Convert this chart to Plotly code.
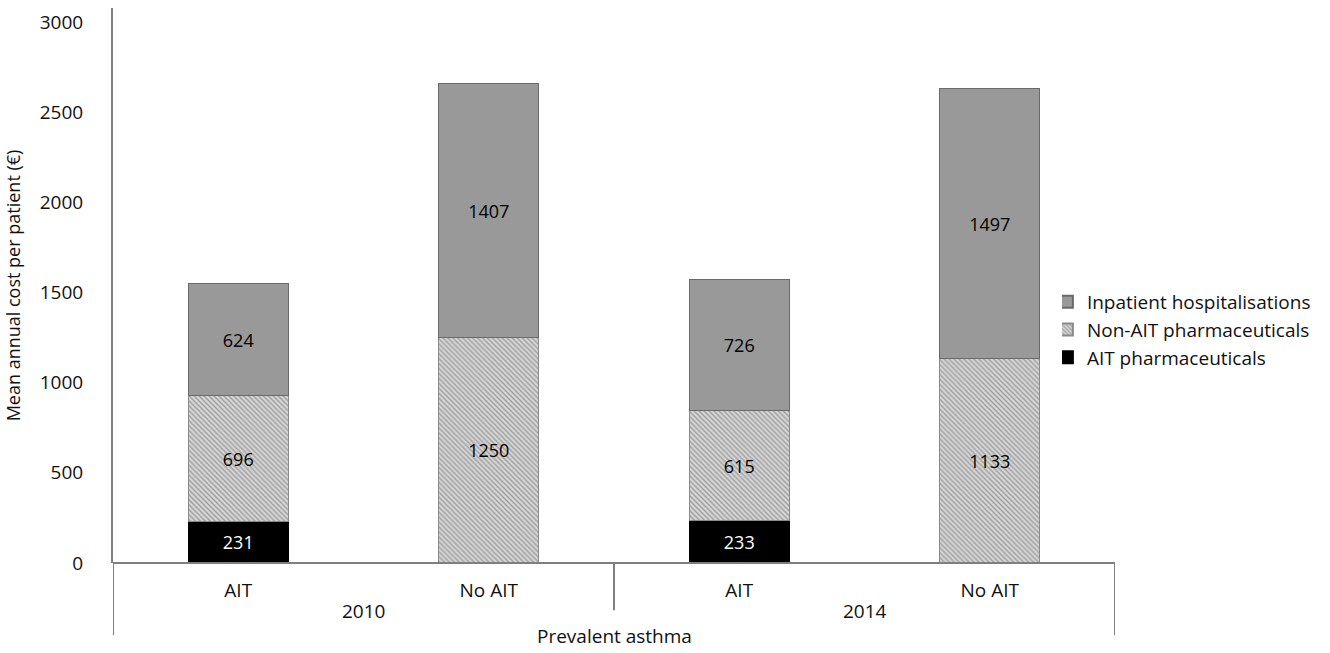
import plotly.graph_objects as go

# Mean annual cost per patient (€), prevalent asthma cohort
groups = ["AIT", "No AIT", "AIT", "No AIT"]
years = ["2010", "2010", "2014", "2014"]
year_labels = ["2010", "2014"]
ait_pharma = [231, None, 233, None]
non_ait_pharma = [696, 1250, 615, 1133]
inpatient = [624, 1407, 726, 1497]
y_ticks = [0, 500, 1000, 1500, 2000, 2500, 3000]

FONT = "Open Sans, Noto Sans, sans-serif"
LINE = "#7f7f7f"
FS = 19
xpos = list(range(len(groups)))

fig = go.Figure()

fig.add_trace(go.Bar(
    x=xpos, y=ait_pharma, name="AIT pharmaceuticals", legendgroup="a",
    marker=dict(color="#000000", line=dict(color="#000000", width=1)),
    text=[("" if v is None else str(v)) for v in ait_pharma],
    textposition="inside", insidetextanchor="middle",
    textfont=dict(color="white", size=18, family=FONT),
))
fig.add_trace(go.Bar(
    x=xpos, y=non_ait_pharma, name="Non-AIT pharmaceuticals", legendgroup="b",
    marker=dict(color="#d0d0d0",
                pattern=dict(shape="\\", fgcolor="#5e5e5e", bgcolor="#d8d8d8",
                             size=3.5, solidity=0.4, fillmode="overlay"),
                line=dict(color="#8a8a8a", width=1)),
    text=[str(v) for v in non_ait_pharma],
    textposition="inside", insidetextanchor="middle",
    textfont=dict(color="black", size=18, family=FONT),
))
fig.add_trace(go.Bar(
    x=xpos, y=inpatient, name="Inpatient hospitalisations", legendgroup="c",
    marker=dict(color="#999999", line=dict(color="#6a6a6a", width=1)),
    text=[str(v) for v in inpatient],
    textposition="inside", insidetextanchor="middle",
    textfont=dict(color="black", size=18, family=FONT),
))

# Category separators and outer frame below the zero line
for xv, y_end in [(-0.5, -0.13), (1.5, -0.085), (3.5, -0.13)]:
    fig.add_shape(type="line", xref="x", yref="paper", x0=xv, x1=xv,
                  y0=0, y1=y_end, line=dict(color=LINE, width=2))
fig.add_shape(type="line", xref="x", yref="paper", x0=-0.5, x1=3.5,
              y0=0, y1=0, line=dict(color=LINE, width=2))

# Year labels centred under each pair of bars
for i, yl in enumerate(year_labels):
    fig.add_annotation(x=2 * i + 0.5, xref="x", y=-0.087, yref="paper",
                       text=yl, showarrow=False, yanchor="middle",
                       font=dict(size=FS, color="#111", family=FONT))
fig.add_annotation(x=1.5, xref="x", y=-0.131, yref="paper",
                   text="Prevalent asthma", showarrow=False, yanchor="middle",
                   font=dict(size=FS, color="#111", family=FONT))

fig.update_layout(
    width=1330, height=653,
    barmode="stack", bargap=0.6,
    plot_bgcolor="white", paper_bgcolor="white",
    margin=dict(l=113, r=215, t=8, b=90, autoexpand=False),
    font=dict(family=FONT, size=FS, color="#111"),
    uniformtext=dict(mode="show", minsize=16),
    showlegend=True,
    legend=dict(x=0.947, xanchor="left", y=0.42, yanchor="middle",
                traceorder="reversed", font=dict(size=FS, family=FONT),
                itemsizing="constant", tracegroupgap=8,
                bgcolor="rgba(0,0,0,0)", indentation=-15),
    xaxis=dict(range=[-0.5, 3.5], tickmode="array", tickvals=xpos,
               ticktext=groups, showgrid=False, zeroline=False,
               showline=False, ticks="", ticklabelstandoff=14,
               tickfont=dict(size=FS, family=FONT)),
    yaxis=dict(range=[0, 3078], tickmode="array", tickvals=y_ticks,
               showgrid=False, zeroline=False, showline=True,
               linecolor=LINE, linewidth=2, ticks="",
               ticklabelstandoff=24,
               title=dict(text="Mean annual cost per patient (€)",
                          font=dict(size=18, family=FONT), standoff=14),
               tickfont=dict(size=FS, family=FONT)),
)

fig.write_html("out.html")
